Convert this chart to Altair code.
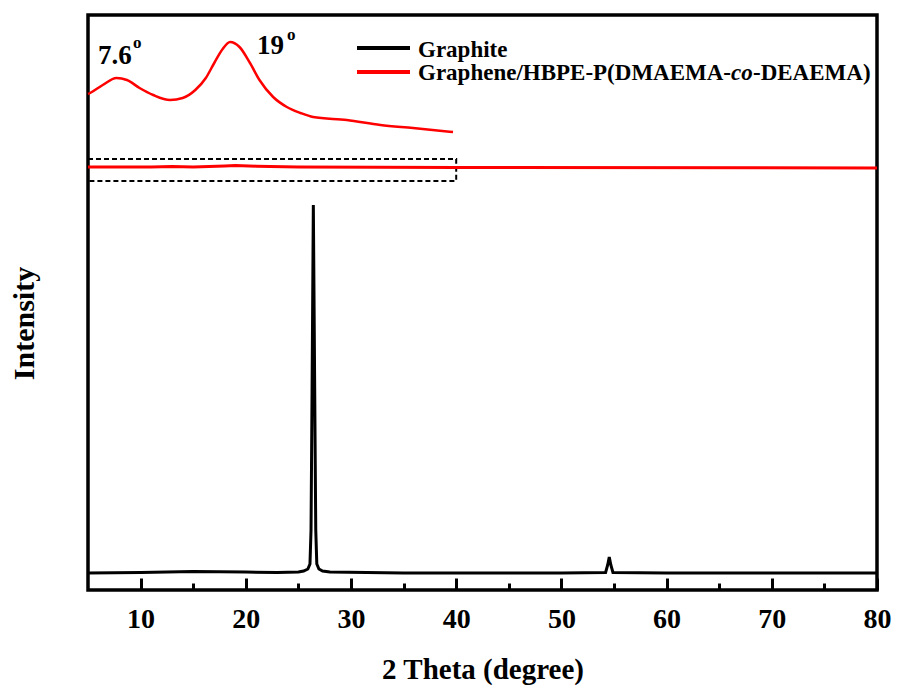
import altair as alt
import pandas as pd

# ---------------- data ----------------
# Graphite XRD pattern: 2θ (degree) and intensity (a.u.)
graphite_theta = [5, 10, 15, 20, 23, 25, 25.5, 25.9, 26.1, 26.2, 26.3, 26.42, 26.55, 26.65, 26.75, 26.95, 27.3, 28, 35, 50,
                  54.2, 54.4, 54.55, 54.7, 54.9, 60, 80]
graphite_int = [17, 17.5, 18.5, 18, 17.5, 18, 19, 21, 26, 60, 200, 385, 200, 60, 26, 21, 19, 18, 17, 17,
                17.5, 25, 33, 25, 17.5, 17, 17]

# Graphene/HBPE-P(DMAEMA-co-DEAEMA): full-range trace (offset)
hybrid_theta = [5, 11, 13, 15, 18, 19, 21, 25, 40, 80]
hybrid_int = [423, 423, 423.5, 423, 424, 424.5, 423.8, 423, 422.5, 422]

# Enlarged view of the 5-40 degree part
inset_theta = [5.0, 5.2, 6.4, 7.7, 8.7, 9.9, 11.2, 12.8, 14.0, 15.2, 16.2, 17.0, 17.8, 18.5, 19.4, 20.4, 21.3,
               22.6, 23.9, 25.2, 26.4, 29.6, 32.8, 35.9, 39.7]
inset_int = [496, 497, 505, 512, 510, 502, 495, 490, 492, 500, 512, 527, 541, 548, 543, 527, 510,
             493, 483, 477, 473, 470, 465, 462, 458]

# Zoomed region marked by the dashed box
box_theta = [5, 40]
box_int = [409, 431]

legend_names = ["Graphite", "Graphene/HBPE-P(DMAEMA-", "co", "-DEAEMA)"]
peak_labels = ["7.6", "19"]
major_ticks = [10, 20, 30, 40, 50, 60, 70, 80]
minor_ticks = [15, 25, 35, 45, 55, 65, 75]

# ---------------- chart ----------------
FONT = "Liberation Serif"
x_scale = alt.Scale(domain=[5, 80], nice=False, zero=False)
y_scale = alt.Scale(domain=[0, 575], nice=False, zero=False)

graphite_df = pd.DataFrame({"theta": graphite_theta, "intensity": graphite_int})
hybrid_df = pd.DataFrame({"theta": hybrid_theta, "intensity": hybrid_int})
inset_df = pd.DataFrame({"theta": inset_theta, "intensity": inset_int})
box_df = pd.DataFrame({"x1": [box_theta[0]], "x2": [box_theta[1]], "y1": [box_int[0]], "y2": [box_int[1]]})

x_main_axis = alt.Axis(
    orient="bottom", values=major_ticks, offset=-12, tickSize=12, tickWidth=3, tickColor="black",
    domain=False, grid=False, format="d",
    labelFont=FONT, labelFontSize=28, labelFontWeight="bold", labelColor="black",
    labelPadding=15, labelFlush=False, labelOverlap=False,
    title="2 Theta (degree)", titleFont=FONT, titleFontSize=29, titleFontWeight="bold",
    titleColor="black", titleBaseline="alphabetic", titleY=100,
)
x_minor_axis = alt.Axis(
    orient="bottom", values=minor_ticks, offset=-7, tickSize=7, tickWidth=3, tickColor="black",
    domain=False, grid=False, labels=False, title=None,
)
y_axis = alt.Axis(
    orient="left", domain=False, ticks=False, labels=False, grid=False,
    title="Intensity", titleFont=FONT, titleFontSize=30, titleFontWeight="bold", titleColor="black",
    titleX=-55, titleY=308, titleAlign="center", titleBaseline="alphabetic",
)

box = alt.Chart(box_df).mark_rect(
    fillOpacity=0, stroke="black", strokeWidth=2, strokeDash=[5, 3]
).encode(
    x=alt.X("x1:Q", scale=x_scale, axis=None), x2="x2:Q",
    y=alt.Y("y1:Q", scale=y_scale, axis=y_axis), y2="y2:Q",
)

hybrid = alt.Chart(hybrid_df).mark_line(color="#ff0000", strokeWidth=3).encode(
    x=alt.X("theta:Q", scale=x_scale, axis=x_minor_axis),
    y=alt.Y("intensity:Q", scale=y_scale, axis=y_axis),
)

graphite = alt.Chart(graphite_df).mark_line(color="black", strokeWidth=3).encode(
    x=alt.X("theta:Q", scale=x_scale, axis=x_main_axis),
    y=alt.Y("intensity:Q", scale=y_scale, axis=y_axis),
)

inset = alt.Chart(inset_df).mark_line(color="#ff0000", strokeWidth=2.5, interpolate="monotone").encode(
    x=alt.X("theta:Q", scale=x_scale, axis=None),
    y=alt.Y("intensity:Q", scale=y_scale, axis=y_axis),
)


def one_row(text):
    return pd.DataFrame({"t": [text]})


def legend_line(color, ypix):
    return alt.Chart(one_row("")).mark_rule(color=color, strokeWidth=4).encode(
        x=alt.value(269), x2=alt.value(322), y=alt.value(ypix)
    )


def label(text, xpix, ypix, size, style="normal"):
    return alt.Chart(one_row(text)).mark_text(
        align="left", baseline="alphabetic", font=FONT, fontSize=size,
        fontWeight="bold", fontStyle=style, color="black"
    ).encode(x=alt.value(xpix), y=alt.value(ypix), text="t:N")


leg = [
    legend_line("black", 33),
    legend_line("#ff0000", 57),
    label(legend_names[0], 330, 42, 23),
    label(legend_names[1], 330, 65, 23),
    label(legend_names[2], 330 + 313, 65, 23, "italic"),
    label(legend_names[3], 330 + 335, 65, 23),
]

ann = [
    label(peak_labels[0], 10, 49, 27),
    label("o", 45, 33, 17),
    label(peak_labels[1], 169, 39, 27),
    label("o", 199, 25, 17),
]

chart = alt.layer(box, hybrid, graphite, inset, *leg, *ann).resolve_axis(
    x="independent"
).properties(
    width=789, height=575,
    autosize=alt.AutoSizeParams(type="none"),
    padding={"left": 88, "top": 15, "right": 20, "bottom": 99},
    background="white",
).configure_view(stroke="black", strokeWidth=3.5)

chart.save("out.html", embed_options={"renderer": "svg", "actions": False})
